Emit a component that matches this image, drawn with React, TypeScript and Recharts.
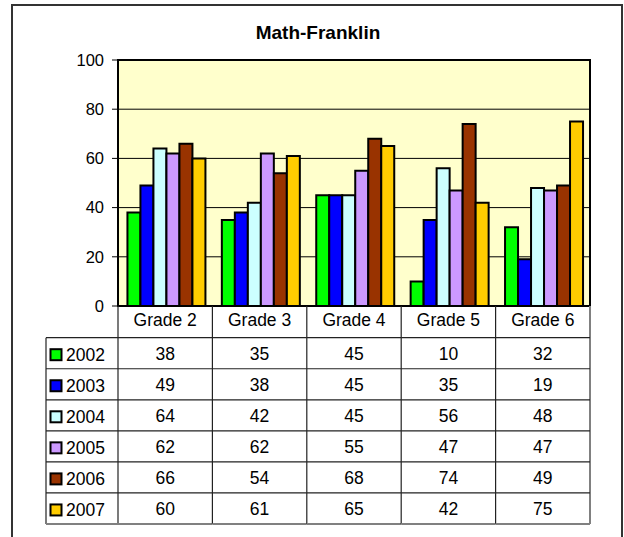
import React from 'react';
import { BarChart, Bar, XAxis, YAxis, CartesianGrid, ReferenceArea } from 'recharts';

const categories = ['Grade 2', 'Grade 3', 'Grade 4', 'Grade 5', 'Grade 6'];
const years = ['2002', '2003', '2004', '2005', '2006', '2007'];
const s2002 = [38, 35, 45, 10, 32];
const s2003 = [49, 38, 45, 35, 19];
const s2004 = [64, 42, 45, 56, 48];
const s2005 = [62, 62, 55, 47, 47];
const s2006 = [66, 54, 68, 74, 49];
const s2007 = [60, 61, 65, 42, 75];
const yTicks = [0, 20, 40, 60, 80, 100];
const title = 'Math-Franklin';

const seriesValues = [s2002, s2003, s2004, s2005, s2006, s2007];
const colors = ['#00FF00', '#0000FF', '#CCFFFF', '#CC99FF', '#993300', '#FFCC00'];

const data = categories.map((grade, i) => {
  const row: Record<string, string | number> = { grade };
  years.forEach((y, s) => {
    row[y] = seriesValues[s][i];
  });
  return row;
});

const FONT = "'Liberation Sans', Arial, sans-serif";
const W = 624;
const H = 537;
const MARGIN = { top: 60, right: 34, bottom: 13, left: 60 };
const YAXIS_W = 58;
const XAXIS_H = 218;
const PLOT_W = W - MARGIN.left - MARGIN.right - YAXIS_W;
const BAND = PLOT_W / categories.length;
const HEADER_H = 31.7;
const ROW_H = 31.05;
const TABLE_LEFT = 46;
const LINE = '#222';

function TableTick(props: any) {
  const { x, y, payload } = props;
  const index: number = payload?.index ?? props.index ?? 0;
  const left = x - BAND / 2;
  const right = x + BAND / 2;
  const bodyTop = y + HEADER_H;
  const bottom = bodyTop + ROW_H * years.length;
  const isLast = index === categories.length - 1;
  const els: React.ReactNode[] = [];
  // header text
  els.push(
    <text key="h" x={x} y={y + 19.7} textAnchor="middle" fontSize={17.5} fontFamily={FONT} fill="#000">
      {payload.value}
    </text>
  );
  // verticals
  els.push(<line key="vl" x1={left} x2={left} y1={y} y2={bottom} stroke={LINE} strokeWidth={1.2} />);
  if (isLast) {
    els.push(<line key="vr" x1={right} x2={right} y1={y} y2={bottom} stroke="#808080" strokeWidth={2} />);
  }
  // horizontals
  for (let k = 0; k <= years.length; k++) {
    const yy = bodyTop + k * ROW_H;
    const last = k === years.length;
    els.push(
      <line key={'hl' + k} x1={left} x2={right} y1={yy} y2={yy} stroke={last ? '#808080' : LINE} strokeWidth={last ? 2 : 1.2} />
    );
  }
  // values
  years.forEach((yr, s) => {
    const rowTop = bodyTop + s * ROW_H;
    els.push(
      <text key={'v' + s} x={x} y={rowTop + ROW_H / 2 + 6.6} textAnchor="middle" fontSize={17.5} fontFamily={FONT} fill="#000">
        {seriesValues[s][index]}
      </text>
    );
  });
  // legend column
  if (index === 0) {
    els.push(<line key="lv" x1={TABLE_LEFT} x2={TABLE_LEFT} y1={bodyTop} y2={bottom} stroke={LINE} strokeWidth={1.2} />);
    for (let k = 0; k <= years.length; k++) {
      const yy = bodyTop + k * ROW_H;
      const last = k === years.length;
      els.push(
        <line key={'lh' + k} x1={TABLE_LEFT} x2={left} y1={yy} y2={yy} stroke={last ? '#808080' : LINE} strokeWidth={last ? 2 : 1.2} />
      );
    }
    years.forEach((yr, s) => {
      const rowTop = bodyTop + s * ROW_H;
      els.push(
        <rect key={'k' + s} x={TABLE_LEFT + 4.5} y={rowTop + 11.5} width={11} height={11} fill={colors[s]} stroke="#000" strokeWidth={2} />
      );
      els.push(
        <text key={'lt' + s} x={TABLE_LEFT + 20} y={rowTop + ROW_H / 2 + 7.4} textAnchor="start" fontSize={17.5} fontFamily={FONT} fill="#000">
          {yr}
        </text>
      );
    });
  }
  return <g>{els}</g>;
}

export default function App() {
  return (
    <div style={{ position: 'absolute', left: 0, top: 0, width: W, height: H, overflow: 'hidden', background: '#fff' }}>
      <div
        style={{
          position: 'absolute',
          left: 11,
          top: 4,
          width: 612,
          height: 600,
          border: '2px solid #333',
          boxSizing: 'border-box',
        }}
      />
      <div style={{ position: 'absolute', left: 0, top: 0 }}>
        <BarChart
          width={W}
          height={H}
          data={data}
          margin={MARGIN}
          barCategoryGap="10%"
          barGap={0}
          style={{ fontFamily: FONT }}
        >
          <CartesianGrid vertical={false} stroke="#000" strokeWidth={1} fill="#FFFFCC" fillOpacity={1} />
          <XAxis
            dataKey="grade"
            height={XAXIS_H}
            tickSize={0}
            tickMargin={0}
            tickLine={false}
            interval={0}
            axisLine={{ stroke: '#000', strokeWidth: 2 }}
            tick={<TableTick />}
          />
          <YAxis
            domain={[0, 100]}
            ticks={yTicks}
            width={YAXIS_W}
            tickSize={6}
            tickMargin={8}
            interval={0}
            tickLine={{ stroke: '#000' }}
            axisLine={{ stroke: '#000', strokeWidth: 2 }}
            tick={{ fill: '#000', fontSize: 16.5, fontFamily: FONT }}
          />
          {years.map((yr, s) => (
            <Bar key={yr} dataKey={yr} fill={colors[s]} stroke="#000" strokeWidth={2} isAnimationActive={false} />
          ))}
          <ReferenceArea y1={0} y2={100} fill="none" stroke="#000" strokeWidth={2} ifOverflow="visible" />
        </BarChart>
      </div>
      <svg width={W} height={H} style={{ position: 'absolute', left: 0, top: 0, pointerEvents: 'none' }}>
        <text x={318} y={39} textAnchor="middle" fontSize={19} fontWeight="bold" fontFamily={FONT} fill="#000">
          {title}
        </text>
      </svg>
    </div>
  );
}
